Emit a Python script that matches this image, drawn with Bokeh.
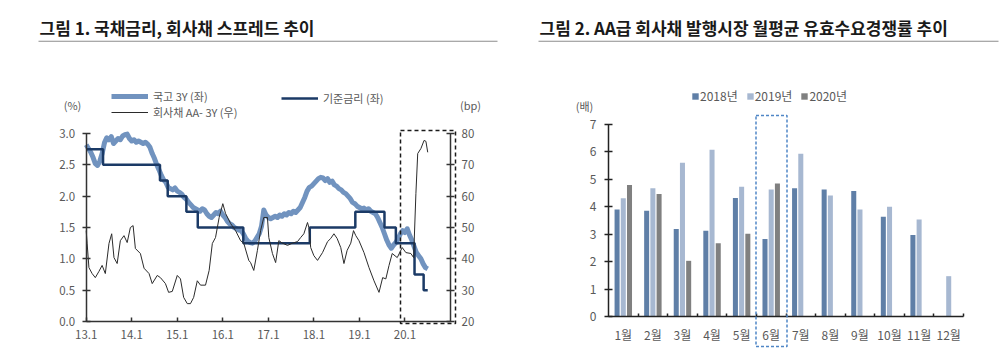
from bokeh.plotting import figure
from bokeh.layouts import row
from bokeh.models import (ColumnDataSource, Range1d, LinearAxis, FixedTicker, Label,
                          Legend, LegendItem, BoxAnnotation, NumeralTickFormatter)
from bokeh.transform import dodge
from bokeh.embed import file_html
from bokeh.resources import INLINE

FONT = "Noto Sans CJK KR"
NAN = float("nan")

# ---------------- Chart 1 data ----------------
year_ticks = [2013, 2014, 2015, 2016, 2017, 2018, 2019, 2020]
year_labels = ["13.1", "14.1", "15.1", "16.1", "17.1", "18.1", "19.1", "20.1"]

# 국고 3Y (%)
gov_t = [2013.00, 2013.05, 2013.10, 2013.15, 2013.20, 2013.25, 2013.30, 2013.35, 2013.40, 2013.45,
         2013.50, 2013.55, 2013.60, 2013.65, 2013.70, 2013.75, 2013.80, 2013.85, 2013.90, 2013.95,
         2014.00, 2014.05, 2014.10, 2014.15, 2014.20, 2014.25, 2014.30, 2014.35, 2014.40, 2014.45,
         2014.50, 2014.55, 2014.60, 2014.65, 2014.70, 2014.75, 2014.80, 2014.85, 2014.90, 2014.95,
         2015.00, 2015.05, 2015.10, 2015.15, 2015.20, 2015.25, 2015.30, 2015.35, 2015.40, 2015.45,
         2015.50, 2015.55, 2015.60, 2015.65, 2015.70, 2015.75, 2015.80, 2015.85, 2015.90, 2015.95,
         2016.00, 2016.05, 2016.10, 2016.15, 2016.20, 2016.25, 2016.30, 2016.35, 2016.40, 2016.45,
         2016.50, 2016.55, 2016.60, 2016.65, 2016.70, 2016.75, 2016.80, 2016.85, 2016.90, 2016.95,
         2017.00, 2017.05, 2017.10, 2017.15, 2017.20, 2017.25, 2017.30, 2017.35, 2017.40, 2017.45,
         2017.50, 2017.55, 2017.60, 2017.65, 2017.70, 2017.75, 2017.80, 2017.85, 2017.90, 2017.95,
         2018.00, 2018.05, 2018.10, 2018.15, 2018.20, 2018.25, 2018.30, 2018.35, 2018.40, 2018.45,
         2018.50, 2018.55, 2018.60, 2018.65, 2018.70, 2018.75, 2018.80, 2018.85, 2018.90, 2018.95,
         2019.00, 2019.05, 2019.10, 2019.15, 2019.20, 2019.25, 2019.30, 2019.35, 2019.40, 2019.45,
         2019.50, 2019.55, 2019.60, 2019.65, 2019.70, 2019.75, 2019.80, 2019.85, 2019.90, 2019.95,
         2020.00, 2020.05, 2020.10, 2020.15, 2020.20, 2020.25, 2020.30, 2020.35, 2020.40, 2020.45,
         2020.50]
gov_v = [2.82, 2.76, 2.70, 2.62, 2.52, 2.49, 2.56, 2.68, 2.85, 2.93,
         2.90, 2.95, 2.84, 2.88, 2.92, 2.90, 2.96, 2.98, 2.99, 2.92,
         2.88, 2.90, 2.86, 2.88, 2.86, 2.84, 2.86, 2.83, 2.78, 2.68,
         2.60, 2.50, 2.42, 2.33, 2.26, 2.22, 2.14, 2.12, 2.10, 2.13,
         2.08, 2.06, 2.03, 1.98, 1.95, 1.90, 1.86, 1.82, 1.80, 1.78,
         1.76, 1.80, 1.78, 1.72, 1.68, 1.66, 1.70, 1.74, 1.72, 1.76,
         1.70, 1.66, 1.60, 1.56, 1.54, 1.50, 1.48, 1.46, 1.45, 1.40,
         1.33, 1.28, 1.26, 1.25, 1.28, 1.34, 1.40, 1.52, 1.78, 1.70,
         1.66, 1.64, 1.66, 1.68, 1.66, 1.70, 1.68, 1.72, 1.70, 1.74,
         1.72, 1.76, 1.74, 1.78, 1.82, 1.90, 1.98, 2.08, 2.14, 2.16,
         2.20, 2.24, 2.28, 2.30, 2.29, 2.25, 2.28, 2.22, 2.24, 2.18,
         2.16, 2.12, 2.10, 2.06, 2.04, 2.00, 1.96, 1.90, 1.88, 1.84,
         1.82, 1.80, 1.81, 1.78, 1.80, 1.76, 1.74, 1.72, 1.66, 1.58,
         1.50, 1.40, 1.30, 1.22, 1.17, 1.22, 1.26, 1.32, 1.40, 1.45,
         1.42, 1.48, 1.38, 1.30, 1.20, 1.10, 1.05, 1.00, 0.92, 0.86,
         0.84]

# 기준금리 (%)
base_t = [2013.00, 2013.37, 2014.62, 2014.79, 2015.20, 2015.45, 2016.45, 2017.91,
          2018.91, 2019.55, 2019.80, 2020.21, 2020.41, 2020.50]
base_v = [2.75, 2.50, 2.25, 2.00, 1.75, 1.50, 1.25, 1.50,
          1.75, 1.50, 1.25, 0.75, 0.50, 0.50]

# 회사채 AA- 3Y 스프레드 (bp)
spr_t = [2013.00, 2013.02, 2013.06, 2013.13, 2013.20, 2013.28, 2013.35, 2013.42, 2013.50, 2013.56,
         2013.61, 2013.68, 2013.75, 2013.83, 2013.90, 2013.97, 2014.03, 2014.08, 2014.19, 2014.27,
         2014.38, 2014.45, 2014.56, 2014.63, 2014.74, 2014.81, 2014.89, 2015.00, 2015.07, 2015.14,
         2015.22, 2015.29, 2015.36, 2015.44, 2015.51, 2015.62, 2015.70, 2015.77, 2015.84, 2015.92,
         2016.00, 2016.06, 2016.17, 2016.28, 2016.39, 2016.46, 2016.57, 2016.61, 2016.68, 2016.76,
         2016.83, 2016.90, 2016.98, 2017.01, 2017.09, 2017.16, 2017.23, 2017.31, 2017.42, 2017.53,
         2017.64, 2017.71, 2017.78, 2017.86, 2017.89, 2017.93, 2018.00, 2018.08, 2018.19, 2018.30,
         2018.37, 2018.44, 2018.51, 2018.59, 2018.66, 2018.73, 2018.81, 2018.87, 2018.92, 2018.99,
         2019.10, 2019.21, 2019.32, 2019.43, 2019.51, 2019.58, 2019.65, 2019.72, 2019.83, 2019.94,
         2020.02, 2020.13, 2020.19, 2020.24, 2020.28, 2020.35, 2020.42, 2020.46, 2020.50]
spr_v = [49.0, 45.0, 37.2, 35.3, 34.0, 36.0, 37.9, 35.3, 44.9, 48.0,
         40.4, 38.5, 45.8, 47.4, 45.2, 50.0, 50.6, 43.3, 41.7, 37.0,
         35.3, 32.1, 34.7, 34.0, 32.1, 29.3, 29.6, 34.7, 33.6, 27.7,
         25.7, 25.7, 27.7, 33.0, 31.6, 31.6, 36.3, 44.9, 46.8, 53.2,
         57.6, 54.5, 51.3, 49.0, 45.8, 45.0, 39.5, 38.8, 36.3, 42.7,
         49.0, 53.2, 53.2, 46.8, 41.7, 38.8, 45.8, 45.0, 44.3, 45.0,
         45.5, 46.8, 48.0, 51.6, 50.0, 43.6, 41.0, 39.5, 42.0, 45.5,
         46.5, 48.0, 46.5, 43.6, 38.5, 42.7, 45.0, 49.0, 47.4, 45.8,
         42.0, 37.2, 33.0, 29.3, 34.0, 33.6, 37.9, 41.7, 40.4, 43.6,
         42.0, 41.7, 40.4, 60.8, 73.6, 75.2, 77.8, 77.5, 74.0]

left_ticks = [0.0, 0.5, 1.0, 1.5, 2.0, 2.5, 3.0]
right_ticks = [20, 30, 40, 50, 60, 70, 80]

# ---------------- Chart 2 data ----------------
months = ["1월", "2월", "3월", "4월", "5월", "6월", "7월", "8월", "9월", "10월", "11월", "12월"]
r2018 = [3.90, 3.86, 3.19, 3.13, 4.32, 2.83, 4.68, 4.63, 4.58, 3.64, 2.97, NAN]
r2019 = [4.31, 4.68, 5.61, 6.08, 4.73, 4.63, 5.93, 4.41, 3.90, 4.00, 3.54, 1.47]
r2020 = [4.79, 4.47, 2.03, 2.67, 3.02, 4.85, NAN, NAN, NAN, NAN, NAN, NAN]
bar_ticks = [0, 1, 2, 3, 4, 5, 6, 7]

LBL = "#595959"
AX = "#333333"
W, H = 500, 357


def span_range(v0, v1, p0, p1, total):
    """Range whose values v0/v1 land at pixel p0/p1 in a frame of `total` pixels."""
    s = (p1 - p0) / (v1 - v0)
    a, b = v0 - p0 / s, v1 + (total - p1) / s
    return Range1d(min(a, b), max(a, b))


def scr_label(p, x, y, text, size="11px", bold=False, color=LBL, align="left"):
    p.add_layout(Label(x=x, y=H - y, x_units="screen", y_units="screen", text=text,
                       text_font=FONT, text_font_size=size,
                       text_font_style="bold" if bold else "normal",
                       text_color=color, text_baseline="middle", text_align=align))


def scr_box(p, l, r, t, b, **kw):
    p.add_layout(BoxAnnotation(left=l, right=r, top=H - t, bottom=H - b,
                               left_units="screen", right_units="screen",
                               top_units="screen", bottom_units="screen", **kw))


def style_axis(ax, size="11.5px", color=AX):
    ax.axis_line_color = color
    ax.axis_line_width = 1.5
    ax.major_tick_line_color = color
    ax.major_tick_line_width = 1.5
    ax.major_label_text_font = FONT
    ax.major_label_text_font_size = size
    ax.major_label_text_color = LBL


# ================= Chart 1 =================
p1 = figure(width=W, height=H,
            x_range=span_range(2013, 2021, 85.7, 450, W),
            y_range=span_range(3, 0, 133, 321, H),
            output_backend="svg", toolbar_location=None, min_border=0,
            outline_line_color=None)
p1.extra_y_ranges = {"bp": span_range(80, 20, 133, 321, H)}
p1.xgrid.visible = False
p1.ygrid.visible = False

xa = p1.xaxis[0]
xa.fixed_location = 0
xa.bounds = (2013, 2021)
xa.ticker = FixedTicker(ticks=year_ticks)
xa.major_label_overrides = {t: l for t, l in zip(year_ticks, year_labels)}
xa.minor_tick_line_color = None
xa.major_tick_in = 4
xa.major_tick_out = 0
xa.major_label_standoff = 8

ya = p1.yaxis[0]
ya.fixed_location = 2013
ya.bounds = (0, 3)
ya.ticker = FixedTicker(ticks=left_ticks)
ya.formatter = NumeralTickFormatter(format="0.0")
ya.minor_tick_line_color = None
ya.major_tick_in = 4
ya.major_tick_out = 4
ya.major_label_standoff = 7

ra = LinearAxis(y_range_name="bp", ticker=FixedTicker(ticks=right_ticks), fixed_location=2021,
                bounds=(20, 80))
ra.minor_tick_line_color = None
ra.major_tick_in = 4
ra.major_tick_out = 4
ra.major_label_standoff = 7
p1.add_layout(ra, "right")

for ax in [xa, ya, ra]:
    style_axis(ax)

r_gov = p1.line(gov_t, gov_v, line_color="#7193BF", line_width=5, line_join="round")
r_base = p1.step(base_t, base_v, mode="after", line_color="#1B3A66", line_width=2.5)
r_spr = p1.line(spr_t, spr_v, y_range_name="bp", line_color="#2b2b2b", line_width=1)

leg1 = Legend(items=[LegendItem(label="국고 3Y (좌)", renderers=[r_gov]),
                     LegendItem(label="회사채 AA- 3Y (우)", renderers=[r_spr])],
              location=(111, H - 120))
leg2 = Legend(items=[LegendItem(label="기준금리 (좌)", renderers=[r_base])],
              location=(281, H - 106))
for lg in [leg1, leg2]:
    lg.margin = 0
    lg.padding = 0
    lg.spacing = 0
    lg.border_line_color = None
    lg.background_fill_alpha = 0
    lg.glyph_width = 37
    lg.glyph_height = 14
    lg.label_height = 14
    lg.label_standoff = 5
    lg.label_text_font = FONT
    lg.label_text_font_size = "11px"
    lg.label_text_color = LBL
    p1.add_layout(lg)

scr_label(p1, 39, 27, "그림 1. 국채금리, 회사채 스프레드 추이", size="17px", bold=True, color="#1a1a1a")
scr_box(p1, 38, 497, 40.3, 41.3, fill_color="#8c8c8c", fill_alpha=1, line_color=None)
scr_label(p1, 72, 104, "(%)", align="center")
scr_label(p1, 470, 104, "(bp)", align="center")
scr_box(p1, 400, 455, 130, 323, fill_alpha=0, line_color="#1a1a1a", line_alpha=1,
        line_width=1.5, line_dash="4 3")

# ================= Chart 2 =================
centers = [i + 0.5 for i in range(len(months))]
src = ColumnDataSource(dict(xc=centers, a=r2018, b=r2019, c=r2020))
p2 = figure(width=W, height=H,
            x_range=span_range(0, len(months), 108, 463, W),
            y_range=span_range(7, 0, 124, 316, H),
            output_backend="svg", toolbar_location=None, min_border=0,
            outline_line_color=None)
p2.xgrid.visible = False
p2.ygrid.visible = False

b1 = p2.vbar(x=dodge("xc", -0.21), top="a", width=0.17, source=src,
             fill_color="#5F7FA7", line_color=None)
b2 = p2.vbar(x=dodge("xc", 0.0), top="b", width=0.17, source=src,
             fill_color="#A7B8D1", line_color=None)
b3 = p2.vbar(x=dodge("xc", 0.21), top="c", width=0.17, source=src,
             fill_color="#808080", line_color=None)

xb = p2.xaxis[0]
xb.fixed_location = 0
xb.bounds = (0, len(months))
xb.ticker = FixedTicker(ticks=centers, minor_ticks=list(range(1, len(months) + 1)))
xb.major_label_overrides = {c: m for c, m in zip(centers, months)}
xb.major_tick_in = 0
xb.major_tick_out = 0
xb.minor_tick_in = 3
xb.minor_tick_out = 0
xb.minor_tick_line_color = "#222222"
xb.minor_tick_line_width = 1.5
xb.major_label_standoff = 9

yb = p2.yaxis[0]
yb.fixed_location = 0
yb.bounds = (0, 7)
yb.ticker = FixedTicker(ticks=bar_ticks)
yb.minor_tick_line_color = None
yb.major_tick_in = 4
yb.major_tick_out = 4
yb.major_label_standoff = 8
for ax in [xb, yb]:
    style_axis(ax, size="12px", color="#222222")
xb.major_tick_line_color = None

leg3 = Legend(items=[LegendItem(label="2018년", renderers=[b1]),
                     LegendItem(label="2019년", renderers=[b2]),
                     LegendItem(label="2020년", renderers=[b3])],
              location=(191, H - 104), orientation="horizontal")
leg3.margin = 0
leg3.padding = 0
leg3.spacing = 8
leg3.border_line_color = None
leg3.background_fill_alpha = 0
leg3.glyph_width = 8
leg3.glyph_height = 8
leg3.label_height = 8
leg3.label_standoff = 1
leg3.label_text_font = FONT
leg3.label_text_font_size = "12px"
leg3.label_text_color = LBL
p2.add_layout(leg3)

scr_label(p2, 39, 27, "그림 2. AA급 회사채 발행시장 월평균 유효수요경쟁률 추이", size="17px", bold=True,
          color="#1a1a1a")
scr_box(p2, 38, 498, 40.3, 41.3, fill_color="#8c8c8c", fill_alpha=1, line_color=None)
scr_label(p2, 84, 105, "(배)", align="center")
scr_box(p2, 255.5, 286.5, 115, 346, fill_alpha=0, line_color="#4F86C6", line_alpha=1,
        line_width=1.5, line_dash="3 2")

layout = row(p1, p2)
open("out.html", "w").write(file_html(layout, INLINE))
